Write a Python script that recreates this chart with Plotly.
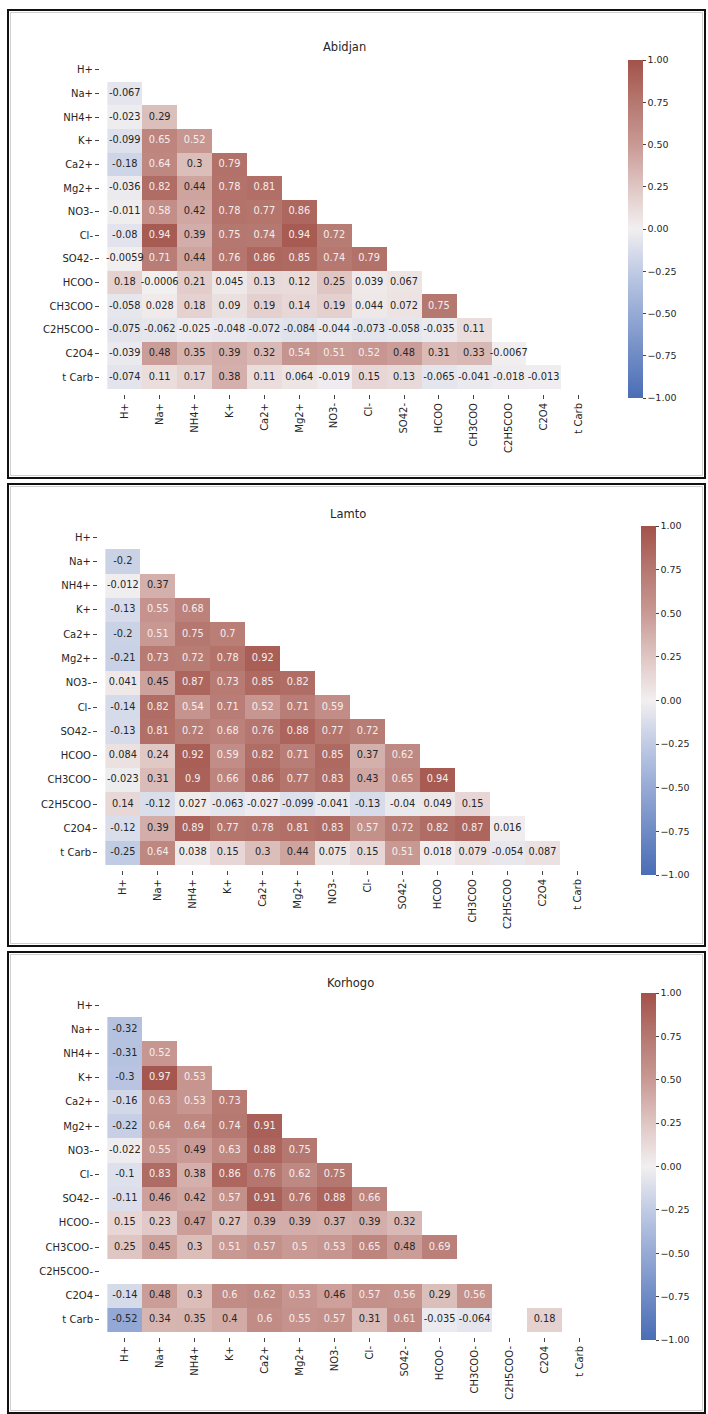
import numpy as np
import plotly.graph_objects as go

# Ion labels for each site
labels_abidjan = ["H+", "Na+", "NH4+", "K+", "Ca2+", "Mg2+", "NO3-", "Cl-", "SO42-",
                  "HCOO", "CH3COO", "C2H5COO", "C2O4", "t Carb"]
labels_lamto = list(labels_abidjan)
labels_korhogo = ["H+", "Na+", "NH4+", "K+", "Ca2+", "Mg2+", "NO3-", "Cl-", "SO42-",
                  "HCOO-", "CH3COO-", "C2H5COO-", "C2O4", "t Carb"]

# Lower-triangle correlation coefficients (row i holds columns 0..i-1), rows start at Na+
abidjan_rows = [
    [-0.067],
    [-0.023, 0.29],
    [-0.099, 0.65, 0.52],
    [-0.18, 0.64, 0.3, 0.79],
    [-0.036, 0.82, 0.44, 0.78, 0.81],
    [-0.011, 0.58, 0.42, 0.78, 0.77, 0.86],
    [-0.08, 0.94, 0.39, 0.75, 0.74, 0.94, 0.72],
    [-0.0059, 0.71, 0.44, 0.76, 0.86, 0.85, 0.74, 0.79],
    [0.18, -0.0006, 0.21, 0.045, 0.13, 0.12, 0.25, 0.039, 0.067],
    [-0.058, 0.028, 0.18, 0.09, 0.19, 0.14, 0.19, 0.044, 0.072, 0.75],
    [-0.075, -0.062, -0.025, -0.048, -0.072, -0.084, -0.044, -0.073, -0.058, -0.035, 0.11],
    [-0.039, 0.48, 0.35, 0.39, 0.32, 0.54, 0.51, 0.52, 0.48, 0.31, 0.33, -0.0067],
    [-0.074, 0.11, 0.17, 0.38, 0.11, 0.064, -0.019, 0.15, 0.13, -0.065, -0.041, -0.018, -0.013],
]

lamto_rows = [
    [-0.2],
    [-0.012, 0.37],
    [-0.13, 0.55, 0.68],
    [-0.2, 0.51, 0.75, 0.7],
    [-0.21, 0.73, 0.72, 0.78, 0.92],
    [0.041, 0.45, 0.87, 0.73, 0.85, 0.82],
    [-0.14, 0.82, 0.54, 0.71, 0.52, 0.71, 0.59],
    [-0.13, 0.81, 0.72, 0.68, 0.76, 0.88, 0.77, 0.72],
    [0.084, 0.24, 0.92, 0.59, 0.82, 0.71, 0.85, 0.37, 0.62],
    [-0.023, 0.31, 0.9, 0.66, 0.86, 0.77, 0.83, 0.43, 0.65, 0.94],
    [0.14, -0.12, 0.027, -0.063, -0.027, -0.099, -0.041, -0.13, -0.04, 0.049, 0.15],
    [-0.12, 0.39, 0.89, 0.77, 0.78, 0.81, 0.83, 0.57, 0.72, 0.82, 0.87, 0.016],
    [-0.25, 0.64, 0.038, 0.15, 0.3, 0.44, 0.075, 0.15, 0.51, 0.018, 0.079, -0.054, 0.087],
]

nan = float("nan")
korhogo_rows = [
    [-0.32],
    [-0.31, 0.52],
    [-0.3, 0.97, 0.53],
    [-0.16, 0.63, 0.53, 0.73],
    [-0.22, 0.64, 0.64, 0.74, 0.91],
    [-0.022, 0.55, 0.49, 0.63, 0.88, 0.75],
    [-0.1, 0.83, 0.38, 0.86, 0.76, 0.62, 0.75],
    [-0.11, 0.46, 0.42, 0.57, 0.91, 0.76, 0.88, 0.66],
    [0.15, 0.23, 0.47, 0.27, 0.39, 0.39, 0.37, 0.39, 0.32],
    [0.25, 0.45, 0.3, 0.51, 0.57, 0.5, 0.53, 0.65, 0.48, 0.69],
    [nan] * 11,
    [-0.14, 0.48, 0.3, 0.6, 0.62, 0.53, 0.46, 0.57, 0.56, 0.29, 0.56, nan],
    [-0.52, 0.34, 0.35, 0.4, 0.6, 0.55, 0.57, 0.31, 0.61, -0.035, -0.064, nan, 0.18],
]

site_titles = ["Abidjan", "Lamto", "Korhogo"]

W, H = 708, 1414

# Pixel boxes: (heatmap x0, x1, y0, y1), colorbar (x, y_top, length), title (x, y), frame (y0, y1)
panels = [
    dict(labels=labels_abidjan, rows=abidjan_rows, hm=(100, 596, 58, 394),
         cb=(628, 60, 338), title=(344, 47), frame=(10, 478)),
    dict(labels=labels_lamto, rows=lamto_rows, hm=(98, 595, 525, 870),
         cb=(641, 526, 349), title=(348, 514), frame=(484, 946)),
    dict(labels=labels_korhogo, rows=korhogo_rows, hm=(100, 597, 993, 1337),
         cb=(641, 993, 347), title=(350, 983), frame=(952, 1413)),
]

colorscale = [
    [0.0, "#4a6db5"],
    [0.125, "#6f8bc5"],
    [0.25, "#96aad5"],
    [0.375, "#c0cbe4"],
    [0.5, "#f2eff0"],
    [0.625, "#dfc6c3"],
    [0.75, "#c99994"],
    [0.875, "#b57870"],
    [1.0, "#a3524a"],
]

FONT = "DejaVu Sans"
TICK_SIZE = 10
fig = go.Figure()
shapes = []
annotations = []


def fx(px):
    return px / W


def fy(py):
    return 1 - py / H


for k, p in enumerate(panels):
    labels = p["labels"]
    n = len(labels)
    z = np.full((n, n), np.nan)
    for i, row in enumerate(p["rows"], start=1):
        for j, v in enumerate(row):
            z[i, j] = v

    sfx = "" if k == 0 else str(k + 1)
    xa, ya, ca = "x" + sfx, "y" + sfx, "coloraxis" + sfx

    fig.add_trace(go.Heatmap(z=z, x=labels, y=labels, coloraxis=ca,
                             xaxis=xa, yaxis=ya, hoverongaps=False))

    # cell annotations, light text on strongly positive cells
    for light in (False, True):
        xs, ys, ts = [], [], []
        for i in range(n):
            for j in range(n):
                v = z[i, j]
                if np.isnan(v):
                    continue
                if (v >= 0.495) == light:
                    xs.append(labels[j])
                    ys.append(labels[i])
                    ts.append(format(v, ".2g"))
        fig.add_trace(go.Scatter(x=xs, y=ys, text=ts, mode="text", xaxis=xa, yaxis=ya,
                                 textfont=dict(family=FONT, size=9.8,
                                               color="#f4eeee" if light else "#262626"),
                                 hoverinfo="skip", showlegend=False))

    x0, x1, y0, y1 = p["hm"]
    common = dict(showgrid=False, zeroline=False, showline=False, ticks="outside",
                  ticklen=4, tickwidth=1, tickcolor="#444", automargin=False,
                  tickfont=dict(family=FONT, size=TICK_SIZE, color="#262626"))
    fig.layout["xaxis" + sfx] = dict(domain=[fx(x0), fx(x1)], anchor=ya, tickangle=-90,
                                     categoryorder="array", categoryarray=labels, **common)
    fig.layout["yaxis" + sfx] = dict(domain=[fy(y1), fy(y0)], anchor=xa, autorange="reversed",
                                     categoryorder="array", categoryarray=labels, **common)

    cbx, cby, cbl = p["cb"]
    fig.layout[ca] = dict(
        cmin=-1, cmax=1, colorscale=colorscale,
        colorbar=dict(x=fx(cbx), xanchor="left", y=fy(cby), yanchor="top",
                      len=cbl, lenmode="pixels", thickness=15, thicknessmode="pixels",
                      outlinewidth=0, xpad=0, ypad=0, ticks="outside", ticklen=3,
                      tickcolor="#444", tickvals=[-1, -0.75, -0.5, -0.25, 0, 0.25, 0.5, 0.75, 1],
                      tickformat=".2f",
                      tickfont=dict(family=FONT, size=9.5, color="#262626")),
    )

    tx, ty = p["title"]
    annotations.append(dict(text=site_titles[k], x=fx(tx), y=fy(ty), xref="paper", yref="paper",
                            showarrow=False, xanchor="center", yanchor="middle",
                            font=dict(family=FONT, size=11.5, color="#262626")))

    fy0, fy1 = p["frame"]
    shapes.append(dict(type="rect", xref="paper", yref="paper",
                       x0=fx(8), x1=fx(705), y0=fy(fy1), y1=fy(fy0),
                       line=dict(color="#111", width=2)))
    shapes.append(dict(type="rect", xref="paper", yref="paper",
                       x0=fx(10.5), x1=fx(702.5), y0=fy(fy1 - 2.5), y1=fy(fy0 + 2.5),
                       line=dict(color="#cfcfcf", width=1)))

fig.update_layout(width=W, height=H, margin=dict(l=0, r=0, t=0, b=0, autoexpand=False),
                  paper_bgcolor="white", plot_bgcolor="white", showlegend=False,
                  shapes=shapes, annotations=annotations)

fig.write_html("out.html")
